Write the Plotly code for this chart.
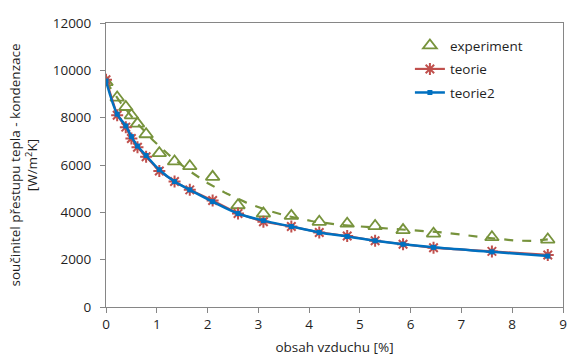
import numpy as np
import plotly.graph_objects as go

# data
x_vals = [0, 0.22, 0.39, 0.5, 0.62, 0.79, 1.05, 1.35, 1.65, 2.1,
          2.6, 3.1, 3.65, 4.2, 4.75, 5.3, 5.85, 6.45, 7.6, 8.7]
experiment = [9500, 8850, 8450, 8100, 7750, 7300, 6500, 6150, 5950, 5500,
              4300, 3950, 3850, 3600, 3520, 3420, 3250, 3100, 2950, 2850]
teorie = [9600, 8100, 7600, 7120, 6750, 6350, 5750, 5300, 4950, 4500,
          3950, 3600, 3400, 3150, 3000, 2800, 2650, 2500, 2350, 2200]
teorie2 = [9550, 8150, 7650, 7200, 6800, 6400, 5800, 5300, 4950, 4450,
           3950, 3650, 3400, 3150, 2980, 2800, 2650, 2520, 2330, 2150]

x_ticks = [0, 1, 2, 3, 4, 5, 6, 7, 8, 9]
y_ticks = [0, 2000, 4000, 6000, 8000, 10000, 12000]

GREEN = "#77933C"
RED = "#C0504D"
BLUE = "#0070C0"
AXIS = "#868686"
TXT = "#1f1f1f"
FONT = "Open Sans"
FS = 13.5

# polynomial trendline (order 6) for the experiment series
coef = np.polyfit(np.array(x_vals, float), np.array(experiment, float), 6)
xt = np.linspace(min(x_vals), max(x_vals), 300)
yt = np.polyval(coef, xt)

fig = go.Figure()
fig.add_trace(go.Scatter(x=xt, y=yt, mode="lines", showlegend=False,
                         line=dict(color=GREEN, width=2.2, dash="dash"), hoverinfo="skip"))
fig.add_trace(go.Scatter(x=x_vals, y=experiment, mode="markers", name="experiment",
                         legendgroup="a",
                         marker=dict(symbol="triangle-up-open", size=12, color=GREEN,
                                     line=dict(color=GREEN, width=1.8))))
fig.add_trace(go.Scatter(x=x_vals, y=teorie, mode="lines+markers", name="teorie",
                         legendgroup="b",
                         line=dict(color=RED, width=2.2),
                         marker=dict(symbol="asterisk-open", size=10, color=RED,
                                     line=dict(color=RED, width=2))))
fig.add_trace(go.Scatter(x=x_vals, y=teorie2, mode="lines+markers", name="teorie2",
                         legendgroup="c",
                         line=dict(color=BLUE, width=2.5, shape="spline"),
                         marker=dict(symbol="square", size=5, color=BLUE)))

fig.update_layout(
    width=568, height=361,
    margin=dict(l=106, r=5, t=23, b=54),
    paper_bgcolor="white", plot_bgcolor="white",
    font=dict(family=FONT, size=FS, color=TXT),
    showlegend=True,
    legend=dict(x=0.665, y=0.975, xanchor="left", yanchor="top",
                bgcolor="rgba(0,0,0,0)", font=dict(size=FS, color=TXT),
                itemwidth=30, traceorder="grouped", tracegroupgap=3),
    xaxis=dict(range=[0, 9], tickvals=x_ticks, showgrid=False, zeroline=False,
               showline=True, linecolor=AXIS, linewidth=1, mirror=True,
               ticks="outside", ticklen=5, tickcolor=AXIS, automargin=False,
               ticklabeloverflow="allow",
               tickfont=dict(size=FS, color=TXT),
               title=dict(text="obsah vzduchu [%]", font=dict(size=FS, color=TXT), standoff=10)),
    yaxis=dict(range=[0, 12000], tickvals=y_ticks, tickformat="d", showgrid=False, zeroline=False,
               showline=True, linecolor=AXIS, linewidth=1, mirror=True,
               ticks="outside", ticklen=5, tickcolor=AXIS, automargin=False,
               ticklabeloverflow="allow", ticklabelstandoff=6,
               tickfont=dict(size=FS, color=TXT),
               title=dict(text="součinitel přestupu tepla - kondenzace<br>[W/m<sup>2</sup>K]",
                          font=dict(size=FS, color=TXT), standoff=11)),
)

fig.write_html("out.html", config={"displayModeBar": False},
               post_script="document.body.style.margin='0';")
